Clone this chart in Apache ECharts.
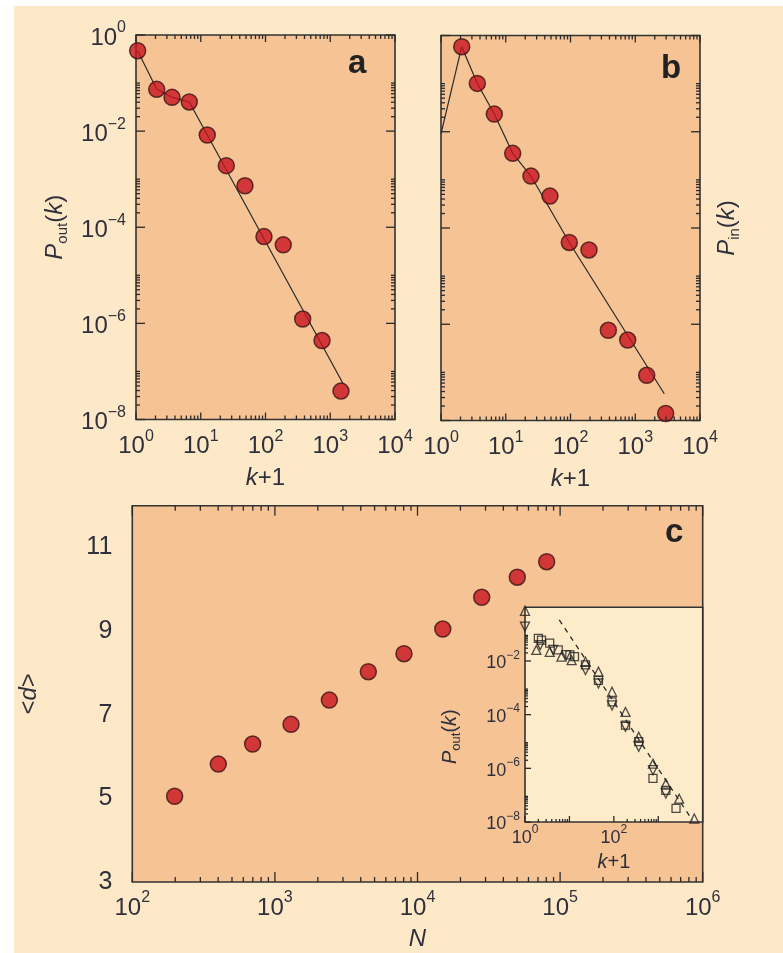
<!DOCTYPE html>
<html><head><meta charset="utf-8">
<script src="https://cdn.jsdelivr.net/npm/echarts@6/dist/echarts.min.js"></script>
<style>
html,body{margin:0;padding:0;background:#fff;}
#bg{position:absolute;left:14px;top:6px;width:769px;height:947px;background:#FDE9C7;}
#chart{position:absolute;left:0;top:0;width:783px;height:953px;}
</style></head><body><div id="bg"></div><div id="chart"></div>
<script>
// ---- Panel a: out-degree distribution ----
const kA = [1.06, 2.09, 3.6, 6.65, 12.6, 24.8, 48.2, 94.8, 188, 375, 746, 1466];
const pOutA = [0.471, 0.0741, 0.0505, 0.0404, 0.0083, 0.00191, 7.3e-4, 6.4e-5, 4.3e-5, 1.23e-6, 4.4e-7, 3.9e-8];
const fitAk = [1.06, 2.09, 3.6, 6.65, 1590];
const fitAp = [0.471, 0.0741, 0.0505, 0.0404, 5.5e-8];
// ---- Panel b: in-degree distribution ----
const kB = [2.09, 3.64, 6.65, 12.8, 24.5, 48.2, 95.8, 193, 384, 764, 1503, 2952];
const pInB = [0.585, 0.101, 0.0233, 0.00356, 0.0012, 4.6e-4, 5.0e-5, 3.5e-5, 7.5e-7, 4.7e-7, 8.7e-8, 1.4e-8];
const fitBk = [1, 2.09, 3.64, 6.65, 12.8, 24.5, 95.8, 2810];
const fitBp = [0.009, 0.585, 0.101, 0.0233, 0.00356, 0.0012, 5.0e-5, 3.6e-8];
// ---- Panel c: mean distance vs N ----
const sizeN = [198, 401, 698, 1297, 2409, 4520, 8035, 15040, 28200, 50100, 80500];
const meanD = [5.05, 5.82, 6.30, 6.77, 7.35, 8.03, 8.46, 9.05, 9.81, 10.29, 10.66];
// ---- Inset ----
const sqK = [2, 2.35, 3.6, 5.6, 10.2, 13, 23, 45, 91, 183, 363, 760, 1480, 2510];
const sqP = [0.069, 0.060, 0.046, 0.026, 0.017, 0.0145, 0.0071, 0.0019, 3.0e-4, 4.1e-5, 9.8e-6, 4.2e-7, 1.5e-7, 3.2e-8];
const upK = [1, 1.8, 3.6, 6.6, 11.2, 23, 45, 91, 183, 363, 760, 1480, 2950, 6460];
const upP = [0.74, 0.026, 0.022, 0.0145, 0.0107, 0.0093, 0.004, 7.1e-4, 1.26e-4, 1.5e-5, 1.5e-6, 2.7e-7, 7.4e-8, 1.35e-8];
const dnK = [1, 2.2, 4.3, 8.5, 23, 45, 91, 183, 363, 760, 1480];
const dnP = [0.19, 0.039, 0.026, 0.0166, 0.0046, 0.00145, 2.2e-4, 3.5e-5, 6.3e-6, 8.5e-7, 1.15e-7];
const dashK = [5.9, 5900];
const dashP = [0.34, 1.15e-8];
// ---- Tick labels ----
const kTicks = [1, 10, 100, 1000, 10000];
const pTicks = [1, 1e-2, 1e-4, 1e-6, 1e-8];
const nTicks = [100, 1000, 10000, 100000, 1000000];
const dTicks = [3, 5, 7, 9, 11];
const insetKTicks = [1, 100];
const insetPTicks = [1e-2, 1e-4, 1e-6, 1e-8];

const TXT = '#30303c';
const FONT = '"Liberation Sans", Arial, Helvetica, sans-serif';
const RED = '#C8141E';
const LINE = '#2a2a2a';
const TICK = '#2a2a2a';
const zip = (a, b) => a.map((v, i) => [v, b[i]]);

function decades(a, b) { const v = []; for (let e = a; e <= b; e++) v.push(Math.pow(10, e)); return v; }
function minors(exps) { const v = []; exps.forEach(e => { for (let m = 2; m <= 9; m++) v.push(m * Math.pow(10, e)); }); return v; }

function supFmt(v) { const e = Math.round(Math.log10(v)); return '{b|10}{s|' + (e < 0 ? '\u2212' + (-e) : e) + '}'; }
function supRich(size) {
  const lh = Math.round(size * 1.25), ss = Math.round(size * 0.67);
  return {
    b: { fontSize: size, lineHeight: lh, verticalAlign: 'bottom', color: TXT, fontFamily: FONT },
    s: { fontSize: ss, lineHeight: ss, verticalAlign: 'top', padding: [0, 0, lh + 1 - ss, 0], color: TXT, fontFamily: FONT }
  };
}
function nameRich(size) {
  const lh = Math.round(size * 1.25), ss = Math.round(size * 0.64);
  return {
    i: { fontStyle: 'italic', fontSize: size, lineHeight: lh, color: TXT, fontFamily: FONT },
    n: { fontSize: size, lineHeight: lh, color: TXT, fontFamily: FONT },
    sub: { fontSize: ss, lineHeight: ss, verticalAlign: 'bottom', color: TXT, fontFamily: FONT }
  };
}

const xAxes = [], yAxes = [];
function mkAxis(list, o) {
  const base = {
    gridIndex: o.grid, type: o.type || 'log', logBase: 10, position: o.pos, min: o.min, max: o.max,
    axisLine: { show: false }, splitLine: { show: false }, axisTick: { show: false },
    axisLabel: o.labels ? { show: true, customValues: o.labels, formatter: o.fmt || supFmt, rich: o.rich || supRich(o.size), margin: o.margin, color: TXT, fontFamily: FONT, fontSize: o.size } : { show: false }
  };
  if (o.name) {
    Object.assign(base, { name: o.name, nameLocation: 'middle', nameGap: o.nameGap, nameRotate: o.nameRotate || 0,
      nameTextStyle: Object.assign({ rich: nameRich(o.nameSize) }, o.namePad ? { padding: o.namePad } : {}) });
  }
  list.push(base);
  return list.length - 1;
}

function xTicks(vals, yEdge, len) { return vals.map(v => [v, yEdge, 0, len]); }
function yTicks(vals, xEdge, len) { return vals.map(v => [xEdge, v, len, 0]); }

const axA = {}, axB = {}, axC = {}, axI = {};
const tickGroups = [];
[[0, axA], [1, axB]].forEach(([g, ax]) => {
  const left = g === 0;
  ax.x = mkAxis(xAxes, { grid: g, pos: 'bottom', min: 1, max: 1e4, labels: kTicks, size: 24, margin: 9,
    name: '{i|k}{n|+1}', nameGap: 44, nameSize: 24 });
  ax.y = mkAxis(yAxes, Object.assign({ grid: g, pos: 'left', min: 1e-8, max: 1 },
    left ? { labels: pTicks, size: 24, margin: 10, name: '{i|P}{sub|out}{n|(}{i|k}{n|)}', nameGap: 66, nameRotate: 90, nameSize: 24 } : {}));
  if (!left) {
    mkAxis(yAxes, { grid: g, pos: 'right', min: 1e-8, max: 1, name: '{i|P}{sub|in}{n|(}{i|k}{n|)}', nameGap: 12, nameRotate: 90, nameSize: 24 });
  }
  const xMaj = decades(0, 4), xMin = minors([0, 1, 2, 3]);
  const yMaj = pTicks, yMin = minors([-8, -6, -4, -2]).concat([1e-7, 1e-5, 1e-3, 1e-1]);
  tickGroups.push([ax.x, ax.y, [].concat(
    xTicks(xMaj, 1e-8, -7), xTicks(xMin, 1e-8, -4), xTicks(xMaj, 1, 7), xTicks(xMin, 1, 4),
    yTicks(yMaj, 1, 9), yTicks(yMin, 1, 4), yTicks(yMaj, 1e4, -9), yTicks(yMin, 1e4, -4))]);
});
// panel c
axC.x = mkAxis(xAxes, { grid: 2, pos: 'bottom', min: 100, max: 1e6, labels: nTicks, size: 24, margin: 8,
  name: '{i|N}', nameGap: 42, nameSize: 24 });
axC.y = mkAxis(yAxes, { grid: 2, type: 'value', pos: 'left', min: 3, max: 12, labels: dTicks, size: 24, margin: 20,
  fmt: v => '{n|' + v + '}', rich: { n: { fontSize: 25, color: TXT, fontFamily: FONT } },
  name: '{n|<}{i|d}{n|>}', nameGap: 88, nameRotate: 90, nameSize: 24 });
tickGroups.push([axC.x, axC.y, [].concat(
  xTicks(nTicks, 3, -10), xTicks(minors([2, 3, 4, 5]), 3, -5), xTicks(nTicks, 12, 10), xTicks(minors([2, 3, 4, 5]), 12, 5))]);
// inset
axI.x = mkAxis(xAxes, { grid: 3, pos: 'bottom', min: 1, max: 1e4, labels: insetKTicks, size: 18, margin: 2,
  name: '{i|k}{n|+1}', nameGap: 28, nameSize: 20 });
axI.y = mkAxis(yAxes, { grid: 3, pos: 'left', min: 1e-8, max: 1, labels: insetPTicks, size: 18, margin: 5,
  name: '{i|P}{sub|out}{n|(}{i|k}{n|)}', nameGap: 62, nameRotate: 90, nameSize: 20, namePad: [0, 44, 0, 0] });
tickGroups.push([axI.x, axI.y, [].concat(
  xTicks(decades(0, 3), 1e-8, -6), xTicks(minors([0, 2]), 1e-8, -3),
  yTicks(insetPTicks, 1, 6), yTicks(minors([-8, -6, -4, -2]), 1, 3))]);

const redDot = { color: RED, borderColor: '#3a1414', borderWidth: 1.5 };
const hollow = { color: 'rgba(0,0,0,0)', borderColor: '#222', borderWidth: 1.3 };

const panelLetters = [
  { type: 'text', left: 348, top: 47, style: { text: 'a', font: 'bold 33px ' + FONT, fill: '#222' } },
  { type: 'text', left: 661, top: 52, style: { text: 'b', font: 'bold 33px ' + FONT, fill: '#222' } },
  { type: 'text', left: 665, top: 516, style: { text: 'c', font: 'bold 33px ' + FONT, fill: '#222' } }
];

const option = {
  backgroundColor: 'transparent',
  animation: false,
  textStyle: { fontFamily: FONT, color: TXT },
  grid: [
    { left: 136, top: 35, width: 259, height: 384.5, show: true, backgroundColor: '#F5C394', borderColor: '#333', borderWidth: 1.6 },
    { left: 441, top: 35.5, width: 259, height: 385, show: true, backgroundColor: '#F5C394', borderColor: '#333', borderWidth: 1.6 },
    { left: 132.3, top: 505.7, width: 570.4, height: 376.3, show: true, backgroundColor: '#F5C394', borderColor: '#333', borderWidth: 1.6 },
    { left: 525, top: 607.3, width: 177.7, height: 214.7, show: true, backgroundColor: '#FDEBC9', borderColor: '#333', borderWidth: 1.6 }
  ],
  xAxis: xAxes,
  yAxis: yAxes,
  graphic: panelLetters,
  series: [
    { type: 'line', xAxisIndex: axA.x, yAxisIndex: axA.y, data: zip(fitAk, fitAp), symbol: 'none', lineStyle: { color: LINE, width: 1.2 }, z: 2, silent: true },
    { type: 'scatter', xAxisIndex: axA.x, yAxisIndex: axA.y, data: zip(kA, pOutA), symbolSize: 16, itemStyle: redDot, z: 3 },
    { type: 'line', xAxisIndex: axB.x, yAxisIndex: axB.y, data: zip(fitBk, fitBp), symbol: 'none', lineStyle: { color: LINE, width: 1.2 }, z: 2, silent: true },
    { type: 'scatter', xAxisIndex: axB.x, yAxisIndex: axB.y, data: zip(kB, pInB), symbolSize: 16, itemStyle: redDot, z: 3 },
    { type: 'scatter', xAxisIndex: axC.x, yAxisIndex: axC.y, data: zip(sizeN, meanD), symbolSize: 16, itemStyle: redDot, z: 3 },
    { type: 'line', xAxisIndex: axI.x, yAxisIndex: axI.y, data: zip(dashK, dashP), symbol: 'none', lineStyle: { color: LINE, width: 1.3, type: [5, 5] }, z: 2, silent: true },
    { type: 'scatter', xAxisIndex: axI.x, yAxisIndex: axI.y, data: zip(sqK, sqP), symbol: 'rect', symbolSize: 8, itemStyle: hollow, z: 3 },
    { type: 'scatter', xAxisIndex: axI.x, yAxisIndex: axI.y, data: zip(upK, upP), symbol: 'triangle', symbolSize: 9, itemStyle: hollow, z: 3 },
    { type: 'scatter', xAxisIndex: axI.x, yAxisIndex: axI.y, data: zip(dnK, dnP), symbol: 'triangle', symbolRotate: 180, symbolSize: 9, itemStyle: hollow, z: 3 }
  ]
};
const chart = echarts.init(document.getElementById('chart'), null, { renderer: 'canvas' });
chart.setOption(option);

// tick marks: positions come from the axes' own scales
const tickEls = [];
tickGroups.forEach(([xi, yi, items]) => {
  items.forEach(([x, y, dx, dy]) => {
    const p = chart.convertToPixel({ xAxisIndex: xi, yAxisIndex: yi }, [x, y]);
    if (!p || !isFinite(p[0]) || !isFinite(p[1])) return;
    tickEls.push({ type: 'line', silent: true, z: 50,
      shape: { x1: p[0], y1: p[1], x2: p[0] + dx, y2: p[1] + dy },
      style: { stroke: TICK, lineWidth: 1.3 } });
  });
});
chart.setOption({ graphic: { elements: panelLetters.concat(tickEls) } });
</script></body></html>
